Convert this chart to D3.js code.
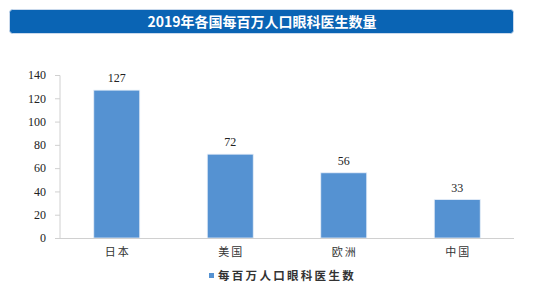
<!DOCTYPE html>
<html>
<head>
<meta charset="utf-8">
<script src="https://cdn.jsdelivr.net/npm/d3@7"></script>
<style>
  body { margin: 0; background: #fff; }
  svg { display: block; }
</style>
</head>
<body>
<svg class="chart" width="554" height="295"></svg>
<script>
const title = "2019年各国每百万人口眼科医生数量"
const categories = ["日本", "美国", "欧洲", "中国"]
const values = [127, 72, 56, 33]
const seriesName = "每百万人口眼科医生数"
const yTicks = [0, 20, 40, 60, 80, 100, 120, 140]

const svg = d3.select("svg.chart")
const margin = { top: 75, left: 60, right: 40, bottom: 57 }
const width = 554 - margin.left - margin.right
const height = 295 - margin.top - margin.bottom

// title bar
svg.append("rect")
    .attr("x", 9.5).attr("y", 9.5)
    .attr("width", 504).attr("height", 24)
    .attr("rx", 3)
    .attr("fill", "#0a64b4")
    .attr("stroke", "#c9d9ec")
svg.append("text")
    .attr("x", 262).attr("y", 26.5)
    .attr("text-anchor", "middle")
    .attr("fill", "#fff")
    .attr("font-family", "'Noto Sans CJK SC', sans-serif")
    .attr("font-weight", "bold")
    .attr("font-size", 14)
    .text(title)

const x = d3.scaleBand().domain(categories).range([0, width]).paddingInner(0.595).paddingOuter(0.2975)
const y = d3.scaleLinear().domain([0, 140]).range([height, 0])

const g = svg.append("g").attr("transform", `translate(${margin.left},${margin.top})`)

const yAxis = g.append("g")
    .call(d3.axisLeft(y).tickValues(yTicks).tickSize(5).tickPadding(9))
yAxis.selectAll("line, path").attr("stroke", "#d0d0d0")
yAxis.select("path").attr("d", `M0,${height + 0.5}V0.5M-5,0.5H0`)
yAxis.selectAll("text")
    .attr("font-family", "'Liberation Serif', serif")
    .attr("font-size", 12)
    .attr("fill", "#222")

g.selectAll("rect.bar")
    .data(values)
    .join("rect")
    .attr("class", "bar")
    .attr("x", (d, i) => x(categories[i]))
    .attr("y", d => y(d))
    .attr("width", x.bandwidth())
    .attr("height", d => height - y(d))
    .attr("fill", "#5592d2")
    .attr("stroke", "#e6eef8")
    .attr("stroke-width", 0.8)

g.selectAll("text.val")
    .data(values)
    .join("text")
    .attr("class", "val")
    .attr("x", (d, i) => x(categories[i]) + x.bandwidth() / 2)
    .attr("y", d => y(d) - 8)
    .attr("text-anchor", "middle")
    .attr("font-family", "'Liberation Serif', serif")
    .attr("font-size", 12)
    .attr("fill", "#222")
    .text(d => d)

const xAxis = g.append("g")
    .attr("transform", `translate(0,${height})`)
    .call(d3.axisBottom(x).tickSize(0).tickPadding(10))
xAxis.select("path").attr("stroke", "#d0d0d0").attr("d", `M0,0.5H${width}`)
xAxis.selectAll("text")
    .attr("font-family", "'Noto Sans CJK SC', sans-serif")
    .attr("font-size", 11)
    .attr("fill", "#333")
    .attr("letter-spacing", 2)
    .attr("dx", 1)

// legend
const legend = svg.append("g").attr("transform", "translate(209,278)")
legend.append("rect")
    .attr("x", 0).attr("y", -5)
    .attr("width", 5).attr("height", 5)
    .attr("fill", "#5592d2")
legend.append("text")
    .attr("x", 9).attr("y", 2)
    .attr("font-family", "'Noto Sans CJK SC', sans-serif")
    .attr("font-weight", "bold")
    .attr("font-size", 11.5)
    .attr("fill", "#333")
    .attr("letter-spacing", 2.3)
    .text(seriesName)
</script>
</body>
</html>
